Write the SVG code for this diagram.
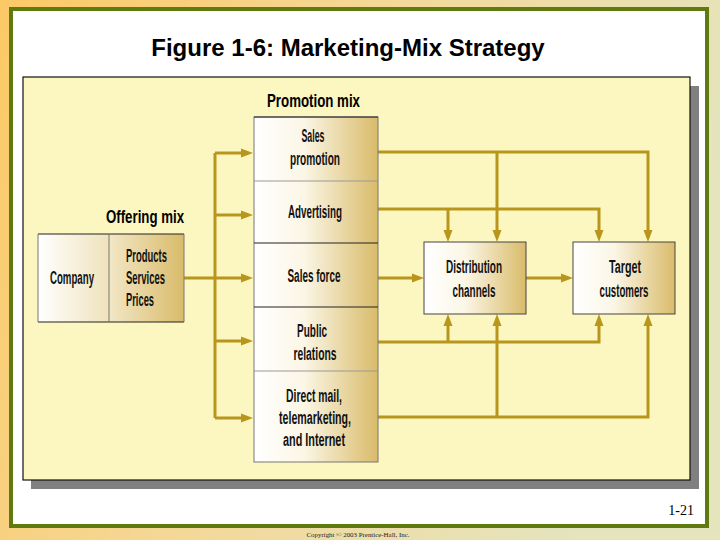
<svg xmlns="http://www.w3.org/2000/svg" width="720" height="540" viewBox="0 0 720 540">
<defs>
<linearGradient id="bg" x1="0" y1="0" x2="1" y2="0.3">
<stop offset="0" stop-color="#fcc965"/>
<stop offset="0.5" stop-color="#f4d898"/>
<stop offset="1" stop-color="#e4e4bd"/>
</linearGradient>
<linearGradient id="cell" x1="0" y1="0" x2="1" y2="0">
<stop offset="0" stop-color="#ffffff"/>
<stop offset="0.4" stop-color="#fbf6e6"/>
<stop offset="1" stop-color="#d9bb6a"/>
</linearGradient>
<linearGradient id="comp" x1="0" y1="0" x2="1" y2="0">
<stop offset="0" stop-color="#ffffff"/>
<stop offset="1" stop-color="#efe2bb"/>
</linearGradient>
<linearGradient id="prod" x1="0" y1="0" x2="1" y2="0">
<stop offset="0" stop-color="#f2e7c6"/>
<stop offset="1" stop-color="#d9bb6a"/>
</linearGradient>
<marker id="ah" markerUnits="userSpaceOnUse" markerWidth="12" markerHeight="9" refX="0" refY="4.5" orient="auto" overflow="visible">
<path d="M0,0 L12,4.5 L0,9 z" fill="#b8961b"/>
</marker>
</defs>
<style>
.conn{fill:none;stroke:#b8961b;stroke-width:3;stroke-linejoin:miter}
.arr{marker-end:url(#ah)}
.lbl{font-family:"Liberation Sans Narrow","Liberation Sans",Arial,sans-serif;font-size:18px;font-weight:bold;fill:#111;text-anchor:middle}
.lft{text-anchor:start}
.hd{font-family:"Liberation Sans Narrow","Liberation Sans",Arial,sans-serif;font-size:19px;font-weight:bold;fill:#000}
.box{stroke:#444;stroke-width:1}
</style>
<rect x="0" y="0" width="720" height="540" fill="url(#bg)"/>
<rect x="11" y="9" width="696" height="517" fill="#ffffff" stroke="#5e7a10" stroke-width="4"/>
<text x="348" y="56" text-anchor="middle" font-family="'Liberation Sans',Arial,sans-serif" font-size="24" font-weight="bold" fill="#000">Figure 1-6: Marketing-Mix Strategy</text>
<rect x="31" y="86" width="668" height="403" fill="#808080"/>
<rect x="23" y="77" width="667" height="403" fill="#fcf6c1" stroke="#111" stroke-width="1.2"/>

<g id="connectors">
<path class="conn" d="M215,153 V418"/>
<path class="conn arr" d="M215,153 H241"/>
<path class="conn arr" d="M215,215 H241"/>
<path class="conn arr" d="M184,278 H241"/>
<path class="conn arr" d="M215,341 H241"/>
<path class="conn arr" d="M215,418 H241"/>
<path class="conn arr" d="M378,152 H648 V230"/>
<path class="conn arr" d="M497,152 V230"/>
<path class="conn arr" d="M378,209 H599 V230"/>
<path class="conn arr" d="M448,209 V230"/>
<path class="conn arr" d="M378,278 H412"/>
<path class="conn arr" d="M526,278 H561"/>
<path class="conn arr" d="M378,342 H599 V326"/>
<path class="conn arr" d="M448,342 V326"/>
<path class="conn arr" d="M378,417 H648 V326"/>
<path class="conn arr" d="M497,417 V326"/>
</g>

<g id="offering-mix">
<text class="hd" x="106" y="223" textLength="78" lengthAdjust="spacingAndGlyphs">Offering mix</text>
<rect x="38" y="234" width="71" height="88" fill="url(#comp)"/>
<rect x="109" y="234" width="75" height="88" fill="url(#prod)"/>
<path d="M38,234 H184 M38,322 H184" stroke="#222" stroke-width="1.2"/>
<path d="M38,234 V322 M109,234 V322 M184,234 V322" stroke="#777" stroke-width="1"/>
<text class="lbl" x="72" y="284" textLength="44" lengthAdjust="spacingAndGlyphs">Company</text>
<text class="lbl lft" x="126" y="262" textLength="41" lengthAdjust="spacingAndGlyphs">Products</text>
<text class="lbl lft" x="126" y="284" textLength="39" lengthAdjust="spacingAndGlyphs">Services</text>
<text class="lbl lft" x="126" y="306" textLength="28" lengthAdjust="spacingAndGlyphs">Prices</text>
</g>

<g id="promotion-mix">
<text class="hd" x="267" y="107" textLength="93" lengthAdjust="spacingAndGlyphs">Promotion mix</text>
<rect x="254" y="117" width="124" height="345" fill="url(#cell)" stroke="#777" stroke-width="1"/>
<path d="M254,117 H378" stroke="#222" stroke-width="1.2"/>
<path d="M254,181 H378 M254,371 H378" stroke="#999" stroke-width="1"/>
<path d="M254,243 H378 M254,307 H378" stroke="#222" stroke-width="1.2"/>
<g id="sales-promotion">
<text class="lbl" x="313" y="142" textLength="23" lengthAdjust="spacingAndGlyphs">Sales</text>
<text class="lbl" x="315" y="165" textLength="50" lengthAdjust="spacingAndGlyphs">promotion</text>
</g>
<g id="advertising">
<text class="lbl" x="315" y="218" textLength="54" lengthAdjust="spacingAndGlyphs">Advertising</text>
</g>
<g id="sales-force">
<text class="lbl" x="314" y="282" textLength="53" lengthAdjust="spacingAndGlyphs">Sales force</text>
</g>
<g id="public-relations">
<text class="lbl" x="312" y="337" textLength="30" lengthAdjust="spacingAndGlyphs">Public</text>
<text class="lbl" x="315" y="360" textLength="43" lengthAdjust="spacingAndGlyphs">relations</text>
</g>
<g id="direct-mail">
<text class="lbl" x="314" y="402" textLength="56" lengthAdjust="spacingAndGlyphs">Direct mail,</text>
<text class="lbl" x="315" y="424" textLength="72" lengthAdjust="spacingAndGlyphs">telemarketing,</text>
<text class="lbl" x="314" y="446" textLength="62" lengthAdjust="spacingAndGlyphs">and Internet</text>
</g>
</g>

<g id="distribution-channels">
<rect class="box" x="424" y="242" width="102" height="72" fill="url(#cell)"/>
<text class="lbl" x="474" y="273" textLength="56" lengthAdjust="spacingAndGlyphs">Distribution</text>
<text class="lbl" x="474" y="297" textLength="43" lengthAdjust="spacingAndGlyphs">channels</text>
</g>

<g id="target-customers">
<rect class="box" x="573" y="242" width="102" height="72" fill="url(#cell)"/>
<text class="lbl" x="625" y="273" textLength="32" lengthAdjust="spacingAndGlyphs">Target</text>
<text class="lbl" x="624" y="297" textLength="49" lengthAdjust="spacingAndGlyphs">customers</text>
</g>

<text x="694" y="515" text-anchor="end" font-family="'Liberation Serif','Times New Roman',serif" font-size="14" fill="#000">1-21</text>
<text x="358" y="537" text-anchor="middle" font-family="'Liberation Serif','Times New Roman',serif" font-size="7" fill="#222" textLength="103" lengthAdjust="spacingAndGlyphs">Copyright © 2003 Prentice-Hall, Inc.</text>
</svg>
